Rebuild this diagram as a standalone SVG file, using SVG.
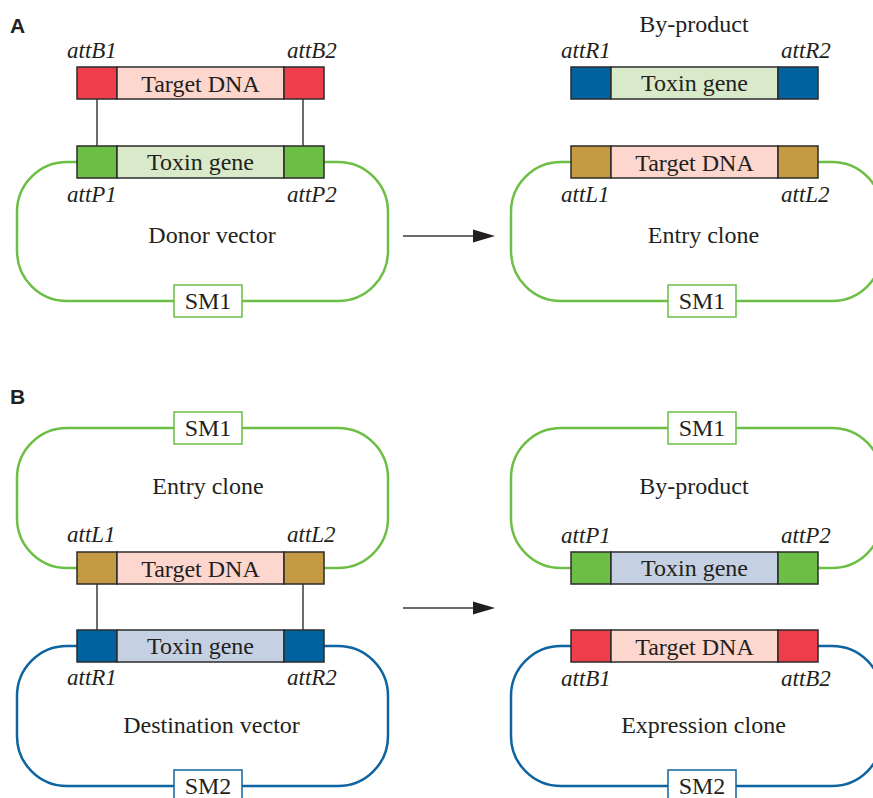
<svg xmlns="http://www.w3.org/2000/svg" width="873" height="798" viewBox="0 0 873 798">
<defs>
<style>
.t{font-family:"Liberation Serif","Times New Roman",serif;font-size:24px;fill:#231F20}
.i{font-style:italic;font-size:23px}
.m{text-anchor:middle}
.h{font-family:"Liberation Sans",Arial,sans-serif;font-weight:bold;font-size:21px;fill:#231F20}
.lg{fill:none;stroke:#6CBE45;stroke-width:2.5}
.lb{fill:none;stroke:#0E64A0;stroke-width:2.5}
.smg{fill:#fff;stroke:#6CBE45;stroke-width:1.5}
.smb{fill:#fff;stroke:#0E64A0;stroke-width:1.5}
.seg{stroke:#2b2b2b;stroke-width:1.5}
.cn{stroke:#3a3a3a;stroke-width:1.5;fill:none}
.red{fill:#EE3E4B}.pink{fill:#FDD6CD}.grn{fill:#6DBE45}.lgrn{fill:#D9EACB}
.blu{fill:#00639F}.bgr{fill:#C5D0E2}.gold{fill:#C49A43}
</style>
</defs>
<rect width="873" height="798" fill="#fff"/>

<text class="h" x="10" y="33">A</text>
<text class="h" x="10" y="404">B</text>

<!-- Panel A left -->
<g id="donor-vector">
  <rect class="lg" x="17" y="162" width="371" height="139" rx="50"/>
  <rect class="smg" x="174" y="285" width="68" height="32"/>
  <text class="t m" x="208" y="309">SM1</text>
  <text class="t m" x="212" y="243">Donor vector</text>
</g>
<g id="a-target-attB" transform="translate(77,67)">
  <rect class="seg red" x="0" y="0" width="40" height="32"/>
  <rect class="seg pink" x="40" y="0" width="167" height="32"/>
  <rect class="seg red" x="207" y="0" width="40" height="32"/>
  <text class="t m" x="123.5" y="25">Target DNA</text>
  <text class="t i" x="-10" y="-9">attB1</text>
  <text class="t i" x="210" y="-9">attB2</text>
</g>
<g id="a-toxin-attP" transform="translate(77,146)">
  <rect class="seg grn" x="0" y="0" width="40" height="32"/>
  <rect class="seg lgrn" x="40" y="0" width="167" height="32"/>
  <rect class="seg grn" x="207" y="0" width="40" height="32"/>
  <text class="t m" x="123.5" y="24">Toxin gene</text>
  <text class="t i" x="-10" y="56">attP1</text>
  <text class="t i" x="210" y="56">attP2</text>
</g>

<!-- Panel A right -->
<g id="a-byproduct" transform="translate(494,0)">
  <text class="t m" x="200" y="32">By-product</text>
  <g transform="translate(77,67)">
    <rect class="seg blu" x="0" y="0" width="40" height="32"/>
    <rect class="seg lgrn" x="40" y="0" width="167" height="32"/>
    <rect class="seg blu" x="207" y="0" width="40" height="32"/>
    <text class="t m" x="123.5" y="24">Toxin gene</text>
    <text class="t i" x="-10" y="-9">attR1</text>
    <text class="t i" x="210" y="-9">attR2</text>
  </g>
</g>
<g id="a-entry-clone" transform="translate(494,0)">
  <rect class="lg" x="17" y="162" width="371" height="139" rx="50"/>
  <rect class="smg" x="174" y="285" width="68" height="32"/>
  <text class="t m" x="208" y="309">SM1</text>
  <text class="t m" x="209.5" y="243">Entry clone</text>
  <g transform="translate(77,146)">
    <rect class="seg gold" x="0" y="0" width="40" height="32"/>
    <rect class="seg pink" x="40" y="0" width="167" height="32"/>
    <rect class="seg gold" x="207" y="0" width="40" height="32"/>
    <text class="t m" x="123.5" y="25">Target DNA</text>
    <text class="t i" x="-10" y="56">attL1</text>
    <text class="t i" x="210" y="56">attL2</text>
  </g>
</g>

<!-- Panel B left -->
<g id="b-entry-clone">
  <rect class="lg" x="17" y="428" width="371" height="140" rx="50"/>
  <rect class="smg" x="174" y="412" width="68" height="32"/>
  <text class="t m" x="208" y="436">SM1</text>
  <text class="t m" x="208" y="494">Entry clone</text>
  <g transform="translate(77,552)">
    <rect class="seg gold" x="0" y="0" width="40" height="32"/>
    <rect class="seg pink" x="40" y="0" width="167" height="32"/>
    <rect class="seg gold" x="207" y="0" width="40" height="32"/>
    <text class="t m" x="123.5" y="25">Target DNA</text>
    <text class="t i" x="-10" y="-10">attL1</text>
    <text class="t i" x="210" y="-10">attL2</text>
  </g>
</g>
<g id="b-destination-vector">
  <rect class="lb" x="17" y="646" width="371" height="140" rx="50"/>
  <rect class="smb" x="174" y="770" width="68" height="32"/>
  <text class="t m" x="208" y="794">SM2</text>
  <text class="t m" x="211.5" y="733">Destination vector</text>
  <g transform="translate(77,630)">
    <rect class="seg blu" x="0" y="0" width="40" height="32"/>
    <rect class="seg bgr" x="40" y="0" width="167" height="32"/>
    <rect class="seg blu" x="207" y="0" width="40" height="32"/>
    <text class="t m" x="123.5" y="24">Toxin gene</text>
    <text class="t i" x="-10" y="55">attR1</text>
    <text class="t i" x="210" y="55">attR2</text>
  </g>
</g>

<!-- Panel B right -->
<g id="b-byproduct" transform="translate(494,0)">
  <rect class="lg" x="17" y="428" width="371" height="140" rx="50"/>
  <rect class="smg" x="174" y="412" width="68" height="32"/>
  <text class="t m" x="208" y="436">SM1</text>
  <text class="t m" x="200" y="494">By-product</text>
  <g transform="translate(77,552)">
    <rect class="seg grn" x="0" y="0" width="40" height="32"/>
    <rect class="seg bgr" x="40" y="0" width="167" height="32"/>
    <rect class="seg grn" x="207" y="0" width="40" height="32"/>
    <text class="t m" x="123.5" y="24">Toxin gene</text>
    <text class="t i" x="-10" y="-9">attP1</text>
    <text class="t i" x="210" y="-9">attP2</text>
  </g>
</g>
<g id="b-expression-clone" transform="translate(494,0)">
  <rect class="lb" x="17" y="646" width="371" height="140" rx="50"/>
  <rect class="smb" x="174" y="770" width="68" height="32"/>
  <text class="t m" x="208" y="794">SM2</text>
  <text class="t m" x="209.5" y="733">Expression clone</text>
  <g transform="translate(77,630)">
    <rect class="seg red" x="0" y="0" width="40" height="32"/>
    <rect class="seg pink" x="40" y="0" width="167" height="32"/>
    <rect class="seg red" x="207" y="0" width="40" height="32"/>
    <text class="t m" x="123.5" y="25">Target DNA</text>
    <text class="t i" x="-10" y="56">attB1</text>
    <text class="t i" x="210" y="56">attB2</text>
  </g>
</g>

<!-- Connectors -->
<g id="connectors">
  <line class="cn" x1="97" y1="99" x2="97" y2="146"/>
  <line class="cn" x1="303" y1="99" x2="303" y2="146"/>
  <line class="cn" x1="97" y1="584" x2="97" y2="630"/>
  <line class="cn" x1="303" y1="584" x2="303" y2="630"/>
  <line class="cn" x1="403" y1="236" x2="476" y2="236"/>
  <polygon points="473,229.5 495,236 473,242.5" fill="#231F20"/>
  <line class="cn" x1="403" y1="608" x2="476" y2="608"/>
  <polygon points="473,601.5 495,608 473,614.5" fill="#231F20"/>
</g>
</svg>
